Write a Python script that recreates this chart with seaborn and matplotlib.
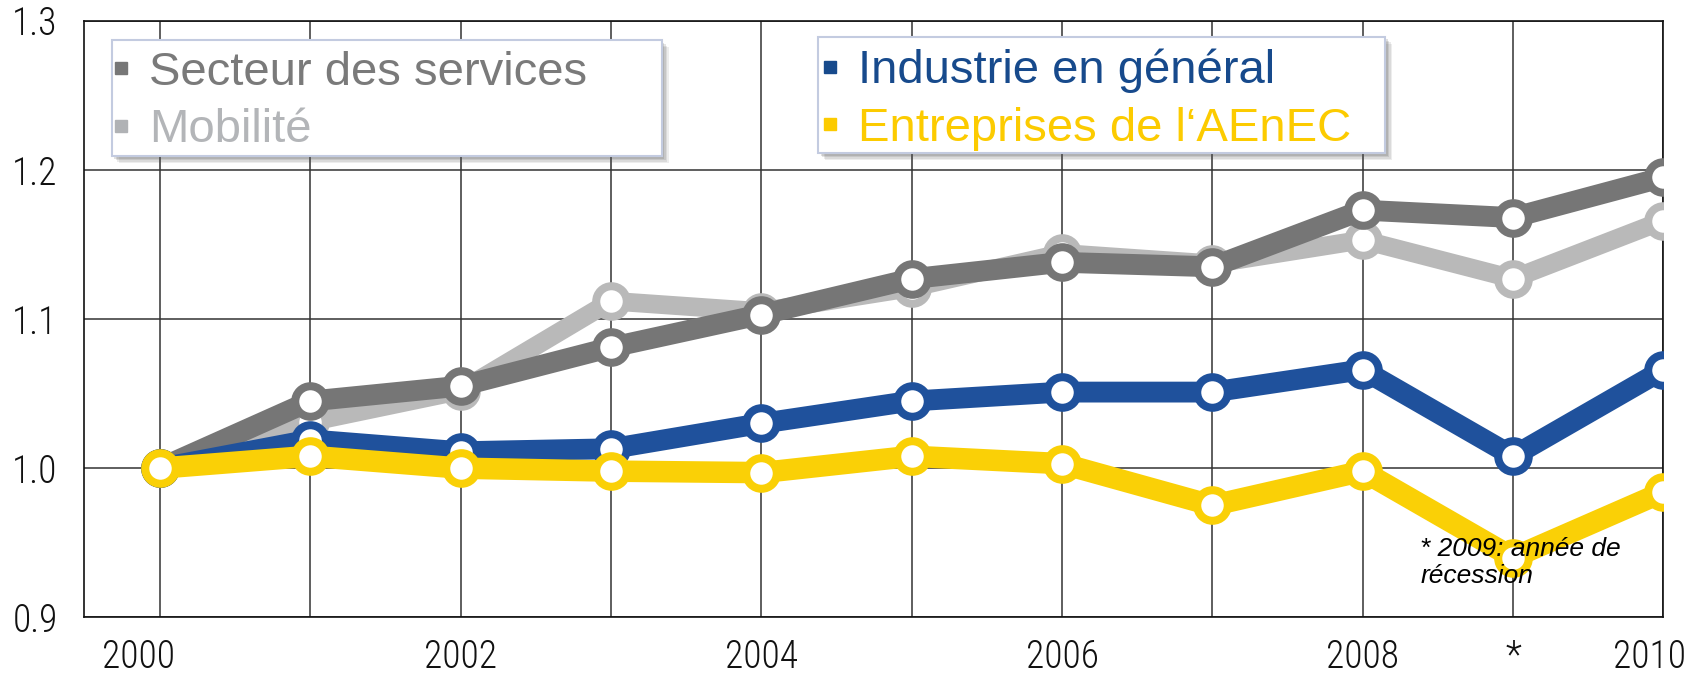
import matplotlib
matplotlib.use("Agg")
import matplotlib.pyplot as plt
import seaborn as sns
from matplotlib.patches import Rectangle
from matplotlib.lines import Line2D
from matplotlib.transforms import ScaledTranslation
from matplotlib import font_manager as fm

# ---- data -------------------------------------------------------------
years = list(range(2000, 2011))
services = [1.000, 1.045, 1.055, 1.081, 1.103, 1.127, 1.138, 1.135, 1.173, 1.168, 1.195]
mobilite = [1.000, 1.031, 1.052, 1.112, 1.105, 1.121, 1.144, 1.137, 1.153, 1.127, 1.166]
industrie = [1.000, 1.019, 1.011, 1.013, 1.030, 1.045, 1.051, 1.051, 1.066, 1.008, 1.066]
aenec = [1.000, 1.008, 1.000, 0.998, 0.997, 1.008, 1.003, 0.975, 0.998, 0.940, 0.984]

series_names = ["Secteur des services", "Mobilité", "Industrie en général",
                "Entreprises de l‘AEnEC"]
xtick_labels = {2000: "2000", 2002: "2002", 2004: "2004", 2006: "2006",
                2008: "2008", 2009: "*", 2010: "2010"}
yticks = [0.9, 1.0, 1.1, 1.2, 1.3]
note = "* 2009: année de\nrécession"

# ---- style ------------------------------------------------------------
sns.set_style("white")
plt.rcParams["font.family"] = ["Liberation Sans", "DejaVu Sans"]

available = {f.name for f in fm.fontManager.ttflist}
tick_family = next((n for n in ["Liberation Sans Narrow", "Roboto Condensed",
                                "Open Sans Condensed", "Noto Sans Condensed"]
                    if n in available), None)
if tick_family is None:
    tick_family, tick_size = "Liberation Sans", 23
else:
    tick_size = 27

c_serv, c_mob, c_ind, c_aen = "#767676", "#b9b9b9", "#1f519c", "#fad006"

W, H = 1688, 675
fig = plt.figure(figsize=(W / 100, H / 100), dpi=100)
left, right, top, bottom = 84, 1663.3, 20.7, 617.3
ax = fig.add_axes([left / W, 1 - bottom / H, (right - left) / W, (bottom - top) / H])

# ---- lines ------------------------------------------------------------
layers = [(mobilite, c_mob, 13.5), (services, c_serv, 15.0),
          (industrie, c_ind, 15.0), (aenec, c_aen, 15.5)]
for i, (vals, col, lw) in enumerate(layers):
    sns.lineplot(x=years, y=vals, ax=ax, color=col, linewidth=lw,
                 marker="o", markersize=22.0, markerfacecolor="white",
                 markeredgecolor=col, markeredgewidth=5.8,
                 errorbar=None, legend=False, zorder=3 + i)

# ---- axes -------------------------------------------------------------
ax.set_xlim(1999.494, 2010.0)
ax.set_ylim(0.9, 1.3)
ax.set_xticks(years)
ax.set_xticklabels([xtick_labels.get(y, "") for y in years])
ax.set_yticks(yticks)
ax.set_yticklabels([f"{v:.1f}" for v in yticks])
ax.set_xlabel("")
ax.set_ylabel("")
ax.tick_params(axis="x", length=0, pad=15, labelsize=tick_size, labelcolor="#111111")
ax.tick_params(axis="y", length=0, pad=19, labelsize=tick_size, labelcolor="#111111")
for lab in ax.get_xticklabels() + ax.get_yticklabels():
    lab.set_family(tick_family)
    lab.set_fontweight("light")
# nudge the outer year labels inwards
xlabs = ax.get_xticklabels()
xlabs[0].set_transform(xlabs[0].get_transform() + ScaledTranslation(-0.22, 0, fig.dpi_scale_trans))
xlabs[-1].set_transform(xlabs[-1].get_transform() + ScaledTranslation(-0.14, 0, fig.dpi_scale_trans))

ax.grid(True, color="#333333", linewidth=1.1)
ax.set_axisbelow(True)
for sp in ax.spines.values():
    sp.set_color("#111111")
    sp.set_linewidth(1.2)

# ---- legend boxes with soft shadow ------------------------------------
def box(x0, y0, x1, y1):
    for k, a in enumerate([0.10, 0.12, 0.15, 0.18]):
        off = 7 - k * 1.5
        ax.add_patch(Rectangle(((x0 + off) / W, 1 - (y1 + off) / H),
                               (x1 - x0) / W, (y1 - y0) / H,
                               transform=fig.transFigure, clip_on=False,
                               facecolor="#555555", edgecolor="none",
                               alpha=a, zorder=9))
    ax.add_patch(Rectangle((x0 / W, 1 - y1 / H), (x1 - x0) / W, (y1 - y0) / H,
                           transform=fig.transFigure, clip_on=False,
                           facecolor="white", edgecolor="#c3cbe0",
                           linewidth=1.5, zorder=10))

box(111.7, 40, 661.7, 156)
box(818.3, 36.7, 1385, 153.3)

leg_kw = dict(frameon=False, fontsize=34, handlelength=0.5, handletextpad=0.36,
              borderpad=0, borderaxespad=0, labelspacing=0.29,
              bbox_transform=fig.transFigure, loc="upper left")

def handle(col):
    return Line2D([], [], marker="s", linestyle="none", markersize=8,
                  markerfacecolor=col, markeredgecolor=col)

leg1 = ax.legend(handles=[handle("#777777"), handle("#b0b2b5")],
                 labels=series_names[:2], labelcolor=["#7a7a7a", "#b3b5b8"],
                 bbox_to_anchor=(108.7 / W, 1 - 50.6 / H), **leg_kw)
leg1.set_zorder(11)
ax.add_artist(leg1)
leg2 = ax.legend(handles=[handle("#174a8c"), handle("#fccb00")],
                 labels=series_names[2:], labelcolor=["#174a8c", "#fccb00"],
                 bbox_to_anchor=(817.7 / W, 1 - 48.6 / H), **leg_kw)
leg2.set_zorder(11)

# ---- note (baseline of the last line) ----------------------------------
ax.text(2008.383, 0.9228, note, style="italic", fontsize=19, color="black",
        ha="left", va="baseline", linespacing=1.17, zorder=20)

fig.savefig("out.png", dpi=100)
